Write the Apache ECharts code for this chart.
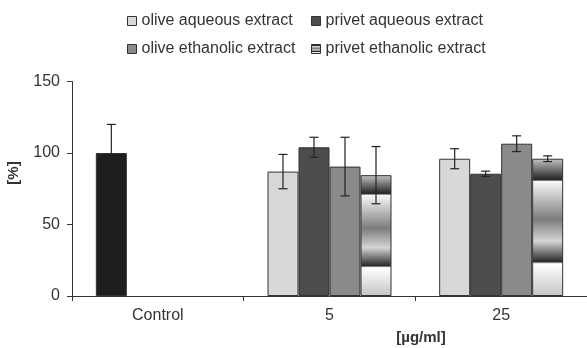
<!DOCTYPE html>
<html>
<head>
<meta charset="utf-8">
<script src="https://cdn.jsdelivr.net/npm/echarts@6/dist/echarts.min.js"></script>
<style>
html,body{margin:0;padding:0;background:#fff;}
#chart{width:587px;height:348px;}
</style>
</head>
<body>
<div id="chart"></div>
<script>
// ---- data ----
const categories = ['Control', '5', '25'];
const seriesNames = ['olive aqueous extract', 'privet aqueous extract', 'olive ethanolic extract', 'privet ethanolic extract'];
// Control value is shown in the first slot of the Control category (black bar)
const oliveAqueous      = [100, 87, 96];
const oliveAqueousErr   = [20, 12, 7];
const privetAqueous     = [null, 104, 85.5];
const privetAqueousErr  = [null, 7, 1.8];
const oliveEthanolic    = [null, 90.5, 106.5];
const oliveEthanolicErr = [null, 20.5, 5.5];
const privetEthanolic   = [null, 84.5, 96];
const privetEthanolicErr= [null, 20, 2];
const yTicks = { min: 0, max: 150, interval: 50 };

// ---- styles ----
const FONT = 'Liberation Sans, Arial, sans-serif';
const TXT = '#333';
const BW = 31;
const stripe = {
  type: 'linear', x: 0, y: 0, x2: 0, y2: 1,
  colorStops: [
    { offset: 0.00, color: '#c4c4c4' },
    { offset: 0.14, color: '#303030' },
    { offset: 0.155, color: '#2a2a2a' },
    { offset: 0.165, color: '#f8f8f8' },
    { offset: 0.44, color: '#7c7c7c' },
    { offset: 0.60, color: '#d4d4d4' },
    { offset: 0.75, color: '#2a2a2a' },
    { offset: 0.765, color: '#ffffff' },
    { offset: 1.00, color: '#c4c4c4' }
  ]
};
const colors = ['#d8d8d8', '#4d4d4d', '#8a8a8a', stripe];
const values = [oliveAqueous, privetAqueous, oliveEthanolic, privetEthanolic];
const errs = [oliveAqueousErr, privetAqueousErr, oliveEthanolicErr, privetEthanolicErr];

const barSeries = values.map((vals, s) => ({
  name: seriesNames[s],
  type: 'bar',
  barWidth: BW,
  barGap: 0,
  itemStyle: { color: colors[s], borderColor: '#333', borderWidth: 1 },
  data: vals.map((v, i) => {
    if (v == null) return null;
    if (s === 0 && i === 0) return { value: v, itemStyle: { color: '#1e1e1e' } };
    return v;
  })
}));

const errSeries = values.map((vals, s) => ({
  type: 'custom',
  name: 'err' + s,
  z: 10,
  silent: true,
  data: vals.map((v, i) => v == null ? null : [i, v, errs[s][i]]).filter(d => d),
  renderItem: function (params, api) {
    const ci = api.value(0), v = api.value(1), e = api.value(2);
    const x = api.coord([ci, 0])[0] + (s - 1.5) * BW;
    const y1 = api.coord([ci, v + e])[1];
    const y2 = api.coord([ci, v - e])[1];
    const hw = 4.5;
    const st = { stroke: '#222', lineWidth: 1.2 };
    return {
      type: 'group',
      children: [
        { type: 'line', shape: { x1: x, y1: y1, x2: x, y2: y2 }, style: st },
        { type: 'line', shape: { x1: x - hw, y1: y1, x2: x + hw, y2: y1 }, style: st },
        { type: 'line', shape: { x1: x - hw, y1: y2, x2: x + hw, y2: y2 }, style: st }
      ]
    };
  }
}));

const chart = echarts.init(document.getElementById('chart'), null, { renderer: 'canvas' });
const legendCommon = {
  orient: 'vertical',
  top: 8,
  itemWidth: 9,
  itemHeight: 9,
  itemGap: 12,
  icon: 'rect',
  textStyle: { fontFamily: FONT, fontSize: 16, color: TXT },
  itemStyle: { borderColor: '#333', borderWidth: 1 }
};
chart.setOption({
  animation: false,
  backgroundColor: '#fff',
  textStyle: { fontFamily: FONT },
  legend: [
    Object.assign({}, legendCommon, { left: 122, data: [seriesNames[0], seriesNames[2]] }),
    Object.assign({}, legendCommon, { left: 306, data: [seriesNames[1], seriesNames[3]] })
  ],
  grid: { left: 72, right: 0, top: 81.5, bottom: 52, containLabel: false },
  xAxis: {
    type: 'category',
    data: categories,
    axisLine: { lineStyle: { color: '#333', width: 1 } },
    axisTick: { show: true, length: 5, lineStyle: { color: '#333' } },
    axisLabel: { fontFamily: FONT, fontSize: 16, color: TXT, margin: 12 }
  },
  yAxis: {
    type: 'value',
    min: yTicks.min, max: yTicks.max, interval: yTicks.interval,
    splitLine: { show: false },
    axisLine: { show: true, lineStyle: { color: '#333', width: 1 } },
    axisTick: { show: true, length: 5, lineStyle: { color: '#333' } },
    axisLabel: { fontFamily: FONT, fontSize: 16, color: TXT, margin: 12 }
  },
  graphic: [
    { type: 'text', x: 14, y: 173, rotation: Math.PI / 2,
      style: { text: '[%]', font: 'bold 15px ' + FONT, fill: TXT, align: 'center', verticalAlign: 'middle' } },
    { type: 'text', x: 421, y: 338,
      style: { text: '[µg/ml]', font: 'bold 15px ' + FONT, fill: TXT, align: 'center', verticalAlign: 'middle' } }
  ],
  series: barSeries.concat(errSeries)
});
</script>
</body>
</html>
